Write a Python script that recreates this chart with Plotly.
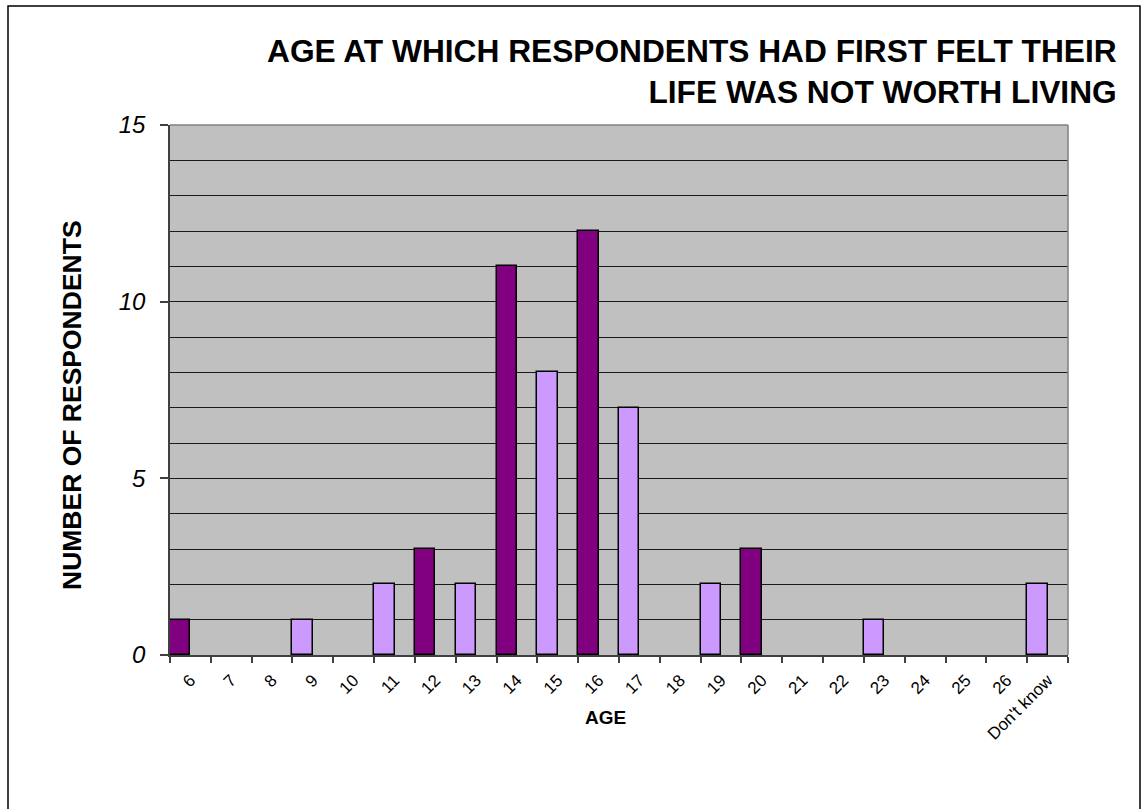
import plotly.graph_objects as go

# Age categories and number of respondents in each
ages = ["6", "7", "8", "9", "10", "11", "12", "13", "14", "15", "16",
        "17", "18", "19", "20", "21", "22", "23", "24", "25", "26", "Don't know"]
respondents = [1, 0, 0, 1, 0, 2, 3, 2, 11, 8, 12, 7, 0, 2, 3, 0, 0, 1, 0, 0, 0, 2]

# Y-axis tick labels
y_ticks = [0, 5, 10, 15]

DARK = "#800080"
LIGHT = "#CC99FF"
bar_colors = [DARK if a.isdigit() and int(a) % 2 == 0 else LIGHT for a in ages]

W, H = 1142, 809
L, R, T, B = 170, 74, 125, 154
pw, ph = W - L - R, H - T - B

def px_x(px):
    return (px - L) / pw

def px_y(py):
    return (H - B - py) / ph

FONT = "Liberation Sans, Arial, sans-serif"

# empty categories get no bar outline
bar_heights = [v if v else None for v in respondents]

fig = go.Figure(
    go.Bar(
        x=ages,
        y=bar_heights,
        width=0.5,
        offset=-0.5,
        marker=dict(color=bar_colors, line=dict(color="#000000", width=1.5)),
        hoverinfo="x+y",
    )
)

fig.update_layout(
    width=W,
    height=H,
    margin=dict(l=L, r=R, t=T, b=B),
    paper_bgcolor="#FFFFFF",
    plot_bgcolor="#C0C0C0",
    showlegend=False,
    font=dict(family=FONT, color="#000000"),
    bargap=0,
)

fig.update_xaxes(
    type="category",
    range=[-0.5, len(ages) - 0.5],
    tickson="boundaries",
    ticks="outside",
    ticklen=6,
    tickcolor="#404040",
    tickwidth=1.5,
    tickangle=-45,
    ticklabelstandoff=7,
    tickfont=dict(family=FONT, size=17, color="#000000"),
    showgrid=False,
    showline=True,
    linecolor="#404040",
    linewidth=1.5,
    zeroline=False,
)

fig.update_yaxes(
    range=[0, 15],
    tickvals=y_ticks,
    ticks="outside",
    ticklen=8,
    tickcolor="#404040",
    tickwidth=1.5,
    ticklabelstandoff=10,
    tickfont=dict(family=FONT, size=24, style="italic", color="#000000"),
    showgrid=False,
    minor=dict(tickvals=list(range(1, 15)), showgrid=True,
               gridcolor="#1a1a1a", gridwidth=1, ticks=""),
    showline=True,
    linecolor="#404040",
    linewidth=1.5,
    zeroline=False,
)

shapes = [
    # plot area top and right edges
    dict(type="line", xref="paper", yref="paper", x0=0, x1=1, y0=1, y1=1,
         line=dict(color="#808080", width=1.5), layer="above"),
    dict(type="line", xref="paper", yref="paper", x0=1, x1=1, y0=0, y1=1,
         line=dict(color="#808080", width=1.5), layer="above"),
    # chart frame
    dict(type="rect", xref="paper", yref="paper",
         x0=px_x(8), x1=px_x(1140), y0=px_y(820), y1=px_y(6),
         line=dict(color="#000000", width=1.5), fillcolor="rgba(0,0,0,0)"),
]
fig.update_layout(shapes=shapes)

annotations = [
    dict(text="<b>AGE AT WHICH RESPONDENTS HAD FIRST FELT THEIR<br>LIFE WAS NOT WORTH LIVING</b>",
         xref="paper", yref="paper", x=px_x(1119), y=px_y(31),
         xanchor="right", yanchor="top", align="right", showarrow=False,
         font=dict(family=FONT, size=31.7, color="#000000")),
    dict(text="<b>NUMBER OF RESPONDENTS</b>", xref="paper", yref="paper",
         x=px_x(72), y=px_y(405), xanchor="center", yanchor="middle",
         textangle=-90, showarrow=False,
         font=dict(family=FONT, size=26.5, color="#000000")),
    dict(text="<b>AGE</b>", xref="paper", yref="paper",
         x=px_x(605), y=px_y(717), xanchor="center", yanchor="middle",
         showarrow=False, font=dict(family=FONT, size=19, color="#000000")),
]
fig.update_layout(annotations=annotations)

fig.write_html("out.html")
